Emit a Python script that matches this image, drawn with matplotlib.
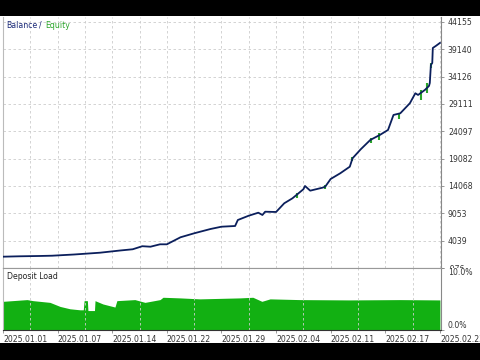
import matplotlib
matplotlib.use('Agg')
import matplotlib.pyplot as plt
from matplotlib.patches import Rectangle
from matplotlib.transforms import Bbox, TransformedBbox

# balance curve (deal number -> account balance)
deals = [0, 6, 13.5, 18, 26, 35.5, 43, 47.5, 51, 54, 57.5, 60, 65, 70, 76, 80,
         85, 86, 90, 93.5, 95, 96, 100, 103, 106, 110, 110.6, 112.5, 117, 118,
         120, 123.5, 127, 128, 131, 134.5, 138, 141, 143, 145.5, 149, 151, 152,
         154.5, 156, 156.3, 156.7, 157.2, 157.4, 158.5, 160]
balance = [1100, 1170, 1230, 1280, 1500, 1830, 2240, 2460, 3020, 2930, 3370,
           3370, 4660, 5390, 6180, 6600, 6730, 7830, 8620, 9170, 8750, 9350,
           9300, 10900, 11810, 13470, 14070, 13210, 13760, 13940, 15360, 16400,
           17610, 19150, 20800, 22510, 23430, 24350, 27100, 27410, 29250, 31080,
           30770, 31690, 32420, 32970, 36280, 36640, 39390, 39760, 40310]

# equity drawdowns below balance
eq_deals = [107.6, 118.1, 127.8, 134.7, 137.7, 145, 153, 155.2, 156.7]
eq_top = [12786, 14254, 19393, 22879, 23797, 27467, 31687, 32972, 36642]
eq_low = [11869, 13520, 18659, 21962, 22512, 26366, 29852, 31137, 35725]

# deposit load, percent
load_deals = [0, 8.8, 11, 17.2, 20.9, 24.5, 28.2, 29.4, 29.7, 30.9, 31.1, 33.5,
              33.7, 36.6, 41.0, 41.7, 48.3, 52, 57.5, 58.6, 64.8, 72.1, 86.8,
              91.5, 94.8, 97.8, 108.7, 127, 145.3, 160]
load_pct = [4.58, 4.86, 4.69, 4.41, 3.75, 3.37, 3.20, 3.20, 4.69, 4.69, 3.08,
            3.08, 4.69, 4.15, 3.65, 4.69, 4.86, 4.41, 4.86, 5.24, 5.14, 4.98,
            5.14, 5.24, 4.58, 4.98, 4.86, 4.81, 4.86, 4.81]

y_ticks = [-976, 4039, 9053, 14068, 19082, 24097, 29111, 34126, 39140, 44155]
x_labels = ['2025.01.01', '2025.01.07', '2025.01.14', '2025.01.22', '2025.01.29',
            '2025.02.04', '2025.02.11', '2025.02.17', '2025.02.23']

W, H = 480, 360
fig = plt.figure(figsize=(4.8, 3.6), dpi=100)
fig.patch.set_facecolor('white')

def box(l, t, r, b):
    return [l / W, 1 - b / H, (r - l) / W, (b - t) / H]

ax = fig.add_axes(box(3, 17, 441, 268))
ax2 = fig.add_axes(box(3, 268, 441, 329.5))

grid_kw = dict(color='#cccccc', linestyle=(0, (3, 3)), linewidth=0.6)
fs = 5.6
txt = '#333333'

# top panel
ax.vlines(eq_deals, eq_low, eq_top, color='#2aa52a', linewidth=1.5, zorder=3)
ax.plot(deals, balance, color='#0b1f5c', linewidth=1.3, zorder=4)
ax.set_xlim(0, 160.4)
ax.set_ylim(-976, 45070)
ax.set_yticks(y_ticks)
ax.set_yticklabels([str(v) for v in y_ticks])
ax.set_xticks(range(0, 161, 10))
ax.set_xticklabels([])
ax.yaxis.tick_right()
ax.tick_params(axis='y', labelsize=fs, labelcolor=txt, length=2, width=0.6,
               color='#888888', pad=3)
ax.tick_params(axis='x', length=0)
ax.grid(True, **grid_kw)
ax.spines['top'].set_visible(False)
ax.spines['left'].set_color('#bbbbbb')
ax.spines['right'].set_color('#888888')
ax.spines['bottom'].set_color('#999999')
for s in ax.spines.values():
    s.set_linewidth(0.8)
ax.text(0.007, 0.985, 'Balance', transform=ax.transAxes, fontsize=fs,
        color='#1b2a78', va='top', ha='left')
ax.text(0.082, 0.985, '/', transform=ax.transAxes, fontsize=fs,
        color='#1b2a78', va='top', ha='left')
ax.text(0.096, 0.985, 'Equity', transform=ax.transAxes, fontsize=fs,
        color='#2aa52a', va='top', ha='left')

# clip the lowest label at the panel border
lbl = ax.yaxis.get_major_ticks()[0].label2
lbl.set_clip_box(TransformedBbox(Bbox([[0, 92 / H], [1, 1]]), fig.transFigure))
lbl.set_clip_on(True)

# bottom panel
ax2.fill_between(load_deals, 0, load_pct, color='#12b012', linewidth=0)
ax2.set_xlim(0, 160.4)
ax2.set_ylim(0, 10)
ax2.set_xticks(range(0, 161, 10), minor=True)
ax2.set_xticks(range(0, 161, 20))
ax2.set_xticklabels(x_labels, ha='left')
ax2.grid(True, which='minor', axis='x', **grid_kw)
ax2.set_yticks([0, 10])
ax2.set_yticklabels(['0.0%', '10.0%'])
ax2.yaxis.tick_right()
ax2.tick_params(axis='y', labelsize=fs, labelcolor=txt, length=2, width=0.6,
                color='#888888', pad=3)
ax2.tick_params(axis='x', which='major', labelsize=fs, labelcolor=txt,
                length=2, width=0.6, color='#888888', pad=2)
ax2.tick_params(axis='x', which='minor', length=0)
yl = ax2.get_yticklabels()
yl[0].set_va('bottom')
yl[1].set_va('top')
ax2.spines['top'].set_color('#999999')
ax2.spines['left'].set_color('#bbbbbb')
ax2.spines['right'].set_color('#888888')
ax2.spines['bottom'].set_color('#333333')
for s in ax2.spines.values():
    s.set_linewidth(0.8)
ax2.text(0.008, 0.93, 'Deposit Load', transform=ax2.transAxes, fontsize=fs,
         color='#222222', va='top', ha='left')

# black letterbox bars
fig.patches.append(Rectangle((0, 1 - 16 / H), 1, 16 / H, transform=fig.transFigure,
                             facecolor='black', edgecolor='none', zorder=10))
fig.patches.append(Rectangle((0, 0), 1, 17 / H, transform=fig.transFigure,
                             facecolor='black', edgecolor='none', zorder=10))

fig.savefig('out.png', dpi=100, facecolor='white')
